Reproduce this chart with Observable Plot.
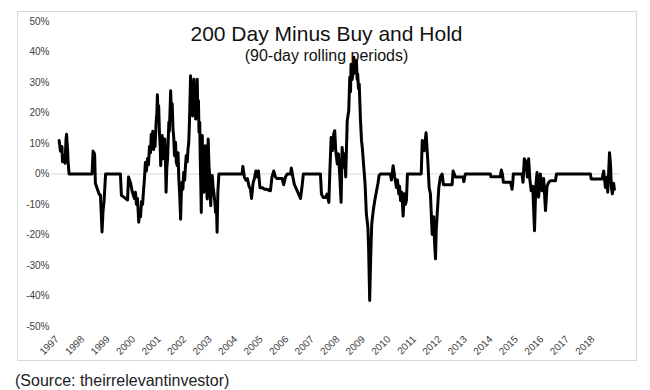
<!DOCTYPE html>
<html>
<head>
<meta charset="utf-8">
<script src="https://cdn.jsdelivr.net/npm/d3@7"></script>
<script src="https://cdn.jsdelivr.net/npm/@observablehq/plot@0.6"></script>
<style>
  html, body { margin: 0; padding: 0; background: #fff; }
  #wrap { position: relative; width: 650px; height: 390px; overflow: hidden; font-family: "Liberation Sans", Arial, sans-serif; }
  #chart { position: absolute; left: 0; top: 0; }
  #border { position: absolute; left: 17px; top: 11px; width: 620px; height: 350px; box-sizing: border-box; border: 1px solid #d9d9d9; pointer-events: none; }
  #caption { position: absolute; left: 15px; top: 372px; font-size: 16px; color: #222; white-space: nowrap; }
</style>
</head>
<body>
<div id="wrap">
  <div id="chart"></div>
  <div id="border"></div>
  <div id="caption">(Source: theirrelevantinvestor)</div>
</div>
<script>
// Title texts
const titleText = "200 Day Minus Buy and Hold";
const subtitleText = "(90-day rolling periods)";

// Tick labels
const yearTicks = [1997,1998,1999,2000,2001,2002,2003,2004,2005,2006,2007,2008,2009,2010,2011,2012,2013,2014,2015,2016,2017,2018];
const pctTicks = [50,40,30,20,10,0,-10,-20,-30,-40,-50];

// Series: dates (decimal years) and values (% difference, 200-day minus buy-and-hold)
const dates = [
  1997.00,1997.05,1997.11,1997.13,1997.19,1997.23,1997.27,1997.29,1997.33,1997.35,1997.39,
  1998.29,1998.33,1998.39,1998.42,1998.50,1998.56,1998.62,1998.68,1998.72,1998.76,1998.80,1998.82,
  1999.40,1999.44,1999.52,1999.60,1999.68,1999.72,1999.80,1999.87,1999.95,
  1999.99,2000.03,2000.07,2000.12,2000.15,2000.19,2000.23,2000.27,2000.31,2000.34,
  2000.38,2000.42,2000.46,2000.50,2000.54,
  2000.58,2000.61,2000.64,2000.67,2000.70,2000.74,2000.76,2000.80,2000.83,2000.85,
  2000.87,2000.90,2000.93,2000.96,2000.98,2001.01,2001.04,2001.07,2001.10,2001.14,
  2001.17,2001.19,2001.22,2001.25,2001.27,2001.30,2001.32,2001.35,2001.37,2001.40,
  2001.43,2001.46,2001.49,2001.52,2001.56,2001.59,2001.63,2001.66,2001.69,2001.72,
  2001.76,2001.79,2001.82,2001.85,2001.88,2001.92,2001.95,2001.98,2002.02,2002.05,
  2002.08,2002.11,2002.13,2002.15,2002.18,2002.20,2002.23,2002.25,2002.28,2002.30,
  2002.33,2002.35,2002.38,2002.41,2002.43,2002.46,2002.48,2002.51,2002.53,2002.55,
  2002.57,2002.59,2002.61,2002.63,2002.67,2002.70,2002.73,2002.77,2002.80,2002.82,
  2002.84,2002.87,2002.89,2002.91,2002.94,2002.97,2003.00,2003.03,2003.06,2003.10,
  2003.13,2003.16,2003.19,2003.22,2003.26,
  2004.17,2004.20,2004.26,2004.32,2004.38,2004.44,2004.50,2004.54,2004.60,2004.65,2004.71,2004.77,2004.81,2004.87,2004.97,
  2005.05,2005.12,2005.28,2005.34,2005.41,2005.48,2005.54,2005.74,2005.80,2005.87,2005.94,
  2006.07,2006.10,2006.16,2006.22,2006.33,2006.46,2006.52,2006.57,
  2007.24,2007.28,2007.35,2007.44,2007.50,2007.57,2007.61,2007.66,2007.71,2007.76,2007.80,2007.84,2007.90,2007.95,
  2008.00,2008.05,2008.09,2008.15,2008.19,2008.23,2008.29,2008.35,2008.39,2008.42,2008.44,2008.48,2008.51,2008.53,
  2008.55,2008.57,2008.60,2008.62,2008.65,2008.68,2008.70,2008.73,2008.76,2008.81,2008.85,2008.88,2008.94,2008.99,
  2009.04,2009.10,2009.13,2009.17,2009.21,2009.25,2009.31,2009.37,2009.44,2009.49,2009.54,2009.59,
  2009.98,2010.02,2010.09,2010.15,2010.22,2010.26,2010.31,2010.34,2010.38,2010.43,2010.48,2010.51,2010.53,2010.57,2010.61,2010.65,
  2011.19,2011.23,2011.30,2011.38,2011.45,2011.50,2011.55,2011.62,2011.68,2011.71,2011.75,2011.78,2011.81,2011.88,2011.94,
  2012.01,2012.06,2012.40,2012.44,2012.53,2012.83,2012.86,2012.92,
  2013.90,2013.92,2014.29,2014.33,2014.37,2014.41,2014.69,2014.75,2014.78,2014.80,
  2015.14,2015.18,2015.23,2015.29,2015.35,2015.40,2015.45,2015.50,2015.56,2015.63,2015.68,2015.73,2015.79,2015.86,2015.93,2015.99,
  2016.06,2016.12,2016.19,2016.25,2016.45,2016.49,
  2017.82,2017.85,2018.28,2018.34,2018.41,2018.48,2018.50,2018.57,2018.61,2018.64,2018.68,2018.73,2018.76
];
const values = [
  11,7.5,9,4,6,3.5,11.5,13,8,4,0,
  0,7.5,6.5,-3,-5,-6.5,-7,-19,-12,-9,-3,0,
  0,-7,-7.5,-8,-8.5,-1,-3,-6,-8,
  -6,-10,-8,-15.8,-12,-14,-9,-10,-5,-2,
  3.8,1,5,3,9,
  7,13,10,14,8,12,9,17,20,26,
  21,22.4,13.7,9,2.7,8,12.6,5,8,11.5,
  3,-6,2,5,10,17,14,22,27.3,20,
  23,15,12,6,10.4,4,2.7,7,-1.6,-6,
  -14.8,-6,-2.7,-5,0.5,-2,2.7,6,4,8.2,
  10.4,18,25,32.2,24,30,19,27,31.1,20,
  29,18,26,31.1,22,24,13.7,17,4.9,-3,
  -12.6,3,12.6,0,-6,4,9.3,-2,-8.2,4,
  11.5,3,0.5,-6,-10.4,-3,-0.5,-4,-6,-9,
  -12.6,-9,-19.1,-6,0,
  0,2.5,-1,-2,-1.5,-4,-5,-8,-3,-1.5,1,-1,1,-4.5,-4.5,
  -5,-5,-5.5,-1,1,-1,-1.5,-1.5,-3.5,-1,0,
  0,2,-1,-3.5,-5.5,-8,-4,0,
  0,-6.6,-7.7,-7.7,-6.6,-9.3,1,12,7.7,13.1,14.2,7.7,3.3,6.6,
  -1,-9.3,8.7,2.2,6.6,-1,17.5,20.8,31.7,27,36,31,32.8,36,
  38.3,33,33.9,37,37.2,31,32.8,28,29.5,17.5,11,8.7,2.2,-3.3,
  -13.1,-17.5,-25.1,-41.5,-27.3,-16.4,-12,-8.7,-5.5,-3.3,-0.5,0,
  0,-2,2.7,-1,-4.4,-2,-6.5,-4,-8.7,-6,-13.8,-9,-6.5,-10,-8.7,0,
  0,11,7.6,13.5,4,-4.4,-6.5,-19.8,-14,-22,-27.8,-18,-14,-4.4,-1,
  0,-3.5,-3.5,1,-1,-1,-2.5,0,
  0,-0.9,-0.9,1.3,0,-2.7,-2.7,-5,-2.7,0,
  0,-2.7,5,4,-1,5,-2,-5.5,-4,-18.6,-4,0.5,-7.6,0,-5.5,-1.5,
  -12,-4,-2.7,-2.2,-2.2,0,
  0,-1.6,-1.6,1,-4.4,-1,-6,7,3,-4,-6.5,-3,-5
];

const rows = dates.map((d, i) => ({date: d, value: values[i]}));

const chart = Plot.plot({
  width: 650,
  height: 365,
  marginLeft: 51,
  marginRight: 30,
  marginTop: 21,
  marginBottom: 39,
  style: {fontFamily: "'Liberation Sans', Arial, sans-serif", fontSize: "10px", color: "#404040", background: "transparent", overflow: "visible"},
  x: {domain: [1996.7, 2019], label: null},
  y: {domain: [-50, 50], label: null},
  marks: [
    Plot.ruleY([0], {stroke: "#d9d9d9", strokeWidth: 1}),
    Plot.axisY({ticks: pctTicks, tickFormat: d => d + "%", tickSize: 0, tickPadding: 2, label: null, fill: "#404040"}),
    Plot.axisX({ticks: yearTicks, tickFormat: d => String(d), tickRotate: -45, tickSize: 0, tickPadding: 11, dx: -2, label: null, fill: "#404040"}),
    Plot.line(rows, {x: "date", y: "value", stroke: "#000", strokeWidth: 3, strokeLinejoin: "round"}),
    Plot.text([titleText], {frameAnchor: "top", dx: -9.5, dy: 19, lineAnchor: "bottom", fontSize: 21, fill: "#111"}),
    Plot.text([subtitleText], {frameAnchor: "top", dx: -9.5, dy: 39.5, lineAnchor: "bottom", fontSize: 16, fill: "#111"})
  ]
});
document.getElementById("chart").appendChild(chart);
</script>
</body>
</html>
